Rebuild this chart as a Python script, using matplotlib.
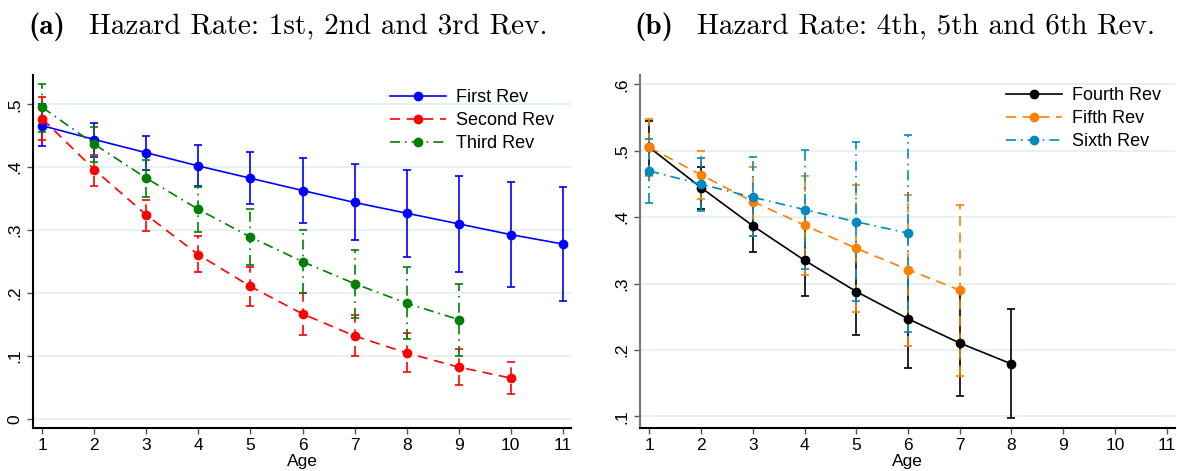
import numpy as np
import matplotlib
matplotlib.use('Agg')
import matplotlib.pyplot as plt

plt.rcParams['font.family'] = ['Liberation Sans', 'DejaVu Sans']

# panel (a) data
ages_a = [1, 2, 3, 4, 5, 6, 7, 8, 9, 10, 11]
first = [0.466, 0.444, 0.423, 0.402, 0.3825, 0.363, 0.344, 0.327, 0.310, 0.293, 0.278]
first_lo = [0.433, 0.417, 0.396, 0.370, 0.341, 0.312, 0.285, 0.258, 0.233, 0.210, 0.188]
first_hi = [0.500, 0.471, 0.450, 0.435, 0.424, 0.414, 0.405, 0.396, 0.386, 0.377, 0.368]

second = [0.477, 0.396, 0.324, 0.261, 0.2105, 0.167, 0.132, 0.105, 0.0825, 0.065]
second_lo = [0.443, 0.370, 0.299, 0.233, 0.179, 0.134, 0.1005, 0.074, 0.054, 0.039]
second_hi = [0.511, 0.420, 0.348, 0.291, 0.242, 0.200, 0.166, 0.137, 0.111, 0.090]

third = [0.495, 0.4365, 0.3825, 0.333, 0.289, 0.250, 0.215, 0.184, 0.158]
third_lo = [0.4565, 0.409, 0.353, 0.297, 0.245, 0.200, 0.160, 0.127, 0.0995]
third_hi = [0.532, 0.4645, 0.412, 0.369, 0.333, 0.300, 0.268, 0.241, 0.215]

# panel (b) data
fourth = [0.505, 0.4445, 0.387, 0.335, 0.288, 0.247, 0.2105, 0.179]
fourth_lo = [0.463, 0.4125, 0.347, 0.281, 0.222, 0.173, 0.131, 0.097]
fourth_hi = [0.545, 0.476, 0.427, 0.389, 0.354, 0.321, 0.290, 0.261]

fifth = [0.505, 0.4636, 0.4235, 0.388, 0.353, 0.321, 0.290]
fifth_lo = [0.462, 0.4275, 0.372, 0.313, 0.257, 0.2065, 0.161]
fifth_hi = [0.548, 0.500, 0.476, 0.462, 0.448, 0.4335, 0.4185]

sixth = [0.4696, 0.4496, 0.430, 0.4114, 0.393, 0.376]
sixth_lo = [0.421, 0.410, 0.371, 0.322, 0.274, 0.227]
sixth_hi = [0.517, 0.489, 0.490, 0.501, 0.513, 0.524]

W, H = 1177, 471
fig = plt.figure(figsize=(W / 100, H / 100), dpi=100)

def px_axes(x0, y0, x1, y1):
    return fig.add_axes([x0 / W, 1 - y1 / H, (x1 - x0) / W, (y1 - y0) / H])

def yfmt(v):
    s = f'{v:.1f}'
    if s == '0.0':
        return '0'
    return s.lstrip('0')

def series(ax, y, lo, hi, label, color, ls):
    x = np.arange(1, len(y) + 1)
    y = np.array(y)
    err = [y - np.array(lo), np.array(hi) - y]
    _, caps, bars = ax.errorbar(x, y, yerr=err, fmt='none', ecolor=color,
                                elinewidth=1.2, capsize=3, capthick=1.2, zorder=2)
    for b in bars:
        b.set_linestyle(ls)
    ax.plot(x, y, color=color, ls=ls, lw=1.2, marker='o', ms=6, label=label, zorder=3)

def style(ax, ylim, yticks, spine_color):
    ax.set_xlim(0.82, 11.16)
    ax.set_ylim(*ylim)
    ax.set_xticks(range(1, 12))
    ax.set_yticks(yticks)
    ax.set_yticklabels([yfmt(v) for v in yticks], rotation=90, va='center')
    ax.tick_params(axis='both', labelsize=12.5, length=4, width=1, color='#555555')
    ax.tick_params(axis='y', pad=4)
    ax.tick_params(axis='x', pad=3)
    for s in ['top', 'right']:
        ax.spines[s].set_visible(False)
    ax.spines['left'].set_color(spine_color)
    ax.spines['left'].set_linewidth(1.5)
    ax.spines['bottom'].set_linewidth(1.5)
    ax.grid(axis='y', color='#e8f0f0', lw=1.5)
    ax.set_axisbelow(True)
    ax.set_xlabel('Age', fontsize=12.5, labelpad=1)

leg_kw = dict(loc='upper left', bbox_transform=fig.transFigure, frameon=False, fontsize=13,
              handlelength=3.1, handletextpad=0.55, labelspacing=0.34, borderpad=0,
              borderaxespad=0, numpoints=1)

ax1 = px_axes(33, 75, 571, 428)
series(ax1, first, first_lo, first_hi, 'First Rev', 'blue', '-')
series(ax1, second, second_lo, second_hi, 'Second Rev', 'red', (0, (6, 4)))
series(ax1, third, third_lo, third_hi, 'Third Rev', 'green', (0, (6, 3, 1, 3)))
style(ax1, (-0.0143, 0.5465), [0, 0.1, 0.2, 0.3, 0.4, 0.5], 'black')
ax1.legend(bbox_to_anchor=(390 / W, 1 - 89 / H), **leg_kw)

ax2 = px_axes(640, 75, 1175, 428)
series(ax2, fourth, fourth_lo, fourth_hi, 'Fourth Rev', 'black', '-')
series(ax2, fifth, fifth_lo, fifth_hi, 'Fifth Rev', '#ff8000', (0, (6, 4)))
series(ax2, sixth, sixth_lo, sixth_hi, 'Sixth Rev', '#008bbc', (0, (6, 3, 1, 3)))
style(ax2, (0.0826, 0.614), [0.1, 0.2, 0.3, 0.4, 0.5, 0.6], '#777777')
ax2.legend(bbox_to_anchor=(1006 / W, 1 - 87 / H), **leg_kw)

# titles in Computer Modern
fig.text(28 / W, 1 - 34 / H, '(a)', fontfamily='cmb10', fontsize=21, va='baseline')
fig.text(89 / W, 1 - 34 / H, 'Hazard Rate: 1st, 2nd and 3rd Rev.', fontfamily='cmr10',
         fontsize=21, va='baseline')
fig.text(634 / W, 1 - 34 / H, '(b)', fontfamily='cmb10', fontsize=21, va='baseline')
fig.text(697 / W, 1 - 34 / H, 'Hazard Rate: 4th, 5th and 6th Rev.', fontfamily='cmr10',
         fontsize=21, va='baseline')

fig.savefig('out.png', dpi=100)
